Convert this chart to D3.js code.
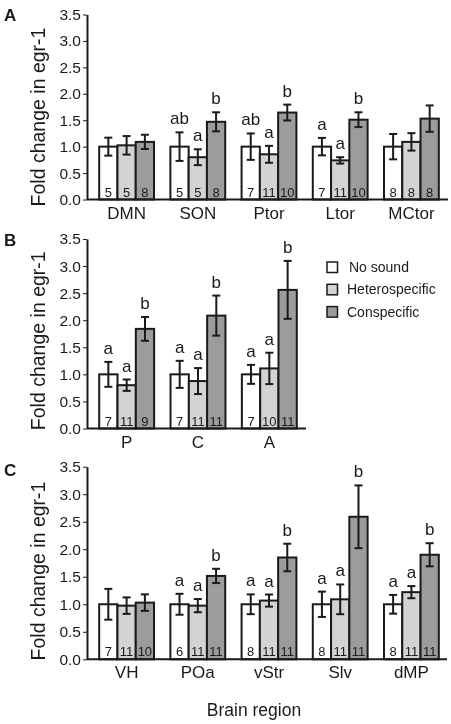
<!DOCTYPE html>
<html>
<head>
<meta charset="utf-8">
<script src="https://cdn.jsdelivr.net/npm/d3@7"></script>
<style>
  html, body { margin: 0; padding: 0; background: #fff; }
  svg { display: block; will-change: transform; }
  text { font-family: "Liberation Sans", Arial, Helvetica, sans-serif; fill: #1a1a1a; }
</style>
</head>
<body>
<svg id="chart" width="451" height="724"></svg>
<script>
// ---------- DATA ----------
const seriesNames = ["No sound", "Heterospecific", "Conspecific"];
const yTicks = [0, 0.5, 1.0, 1.5, 2.0, 2.5, 3.0, 3.5];

// Panel A
const catsA = ["DMN", "SON", "Ptor", "Ltor", "MCtor"];
const noSoundA = [1.0, 1.0, 1.0, 1.0, 1.0];
const heteroA = [1.025, 0.80, 0.855, 0.74, 1.09];
const conA = [1.09, 1.47, 1.645, 1.51, 1.53];
const noSoundErrA = [0.17, 0.27, 0.25, 0.165, 0.24];
const heteroErrA = [0.175, 0.15, 0.16, 0.06, 0.165];
const conErrA = [0.135, 0.18, 0.15, 0.14, 0.25];
const noSoundNA = [5, 5, 7, 7, 8];
const heteroNA = [5, 5, 11, 11, 8];
const conNA = [8, 8, 10, 10, 8];
const noSoundLetA = ["", "ab", "ab", "a", ""];
const heteroLetA = ["", "a", "a", "a", ""];
const conLetA = ["", "b", "b", "b", ""];

// Panel B
const catsB = ["P", "C", "A"];
const noSoundB = [1.0, 1.0, 1.0];
const heteroB = [0.80, 0.876, 1.11];
const conB = [1.84, 2.085, 2.56];
const noSoundErrB = [0.23, 0.25, 0.175];
const heteroErrB = [0.105, 0.24, 0.29];
const conErrB = [0.22, 0.37, 0.535];
const noSoundNB = [7, 7, 7];
const heteroNB = [11, 11, 10];
const conNB = [9, 11, 11];
const noSoundLetB = ["a", "a", "a"];
const heteroLetB = ["a", "a", "a"];
const conLetB = ["b", "b", "b"];

// Panel C
const catsC = ["VH", "POa", "vStr", "Slv", "dMP"];
const noSoundC = [1.0, 1.0, 1.0, 1.0, 1.0];
const heteroC = [0.975, 0.975, 1.067, 1.09, 1.22];
const conC = [1.03, 1.515, 1.85, 2.59, 1.90];
const noSoundErrC = [0.28, 0.19, 0.18, 0.23, 0.17];
const heteroErrC = [0.15, 0.12, 0.11, 0.27, 0.11];
const conErrC = [0.15, 0.13, 0.25, 0.57, 0.21];
const noSoundNC = [7, 6, 8, 8, 8];
const heteroNC = [11, 11, 11, 11, 11];
const conNC = [10, 11, 11, 11, 11];
const noSoundLetC = ["", "a", "a", "a", "a"];
const heteroLetC = ["", "a", "a", "a", "a"];
const conLetC = ["", "b", "b", "b", "b"];

// ---------- STYLE / LAYOUT ----------
const colors = ["#ffffff", "#d3d3d3", "#9c9c9c"];
const ink = "#1a1a1a";
const font = '"Liberation Sans", Arial, Helvetica, sans-serif';

const svg = d3.select("#chart");

function buildRows(cats, vals, errs, ns, lets) {
  return cats.map((c, i) => ({
    cat: c,
    bars: seriesNames.map((s, k) => ({
      series: s, k: k, value: vals[k][i], err: errs[k][i], n: ns[k][i], letter: lets[k][i]
    }))
  }));
}

function drawPanel(cfg) {
  const g = svg.append("g");
  const y = d3.scaleLinear().domain([0, 3.5]).range([cfg.y0, cfg.y35]);
  const x0 = d3.scaleBand().domain(cfg.rows.map(d => d.cat))
    .range([cfg.bandL, cfg.bandR]).paddingInner(0.23).paddingOuter(0.115);
  const x1 = d3.scaleBand().domain(seriesNames).range([0, x0.bandwidth()]).padding(0);

  // panel letter
  g.append("text").attr("x", 4).attr("y", cfg.letterY)
    .attr("font-size", 17).attr("font-weight", "bold").text(cfg.label);

  // y axis
  const yAx = g.append("g").attr("transform", `translate(${cfg.left},0)`)
    .call(d3.axisLeft(y).tickValues(yTicks).tickFormat(d3.format(".1f")).tickSize(4).tickSizeOuter(0).tickPadding(2));
  yAx.select(".domain").attr("stroke", ink).attr("stroke-width", 2);
  yAx.selectAll(".tick line").attr("stroke", ink).attr("stroke-width", 1);
  yAx.selectAll(".tick text").attr("font-size", 15.5).attr("font-family", font).attr("fill", "#222");

  // y title
  g.append("text")
    .attr("transform", `translate(45,${(cfg.y0 + cfg.y35) / 2 + cfg.titleShift}) rotate(-90)`)
    .attr("text-anchor", "middle").attr("font-size", 19.5)
    .text("Fold change in egr-1");

  // bars
  const grp = g.selectAll(".grp").data(cfg.rows).join("g")
    .attr("transform", d => `translate(${x0(d.cat)},0)`);

  grp.selectAll("rect").data(d => d.bars).join("rect")
    .attr("x", d => x1(d.series))
    .attr("width", x1.bandwidth())
    .attr("y", d => y(d.value))
    .attr("height", d => y(0) - y(d.value))
    .attr("fill", d => colors[d.k])
    .attr("stroke", ink).attr("stroke-width", 2);

  // error bars
  const eb = grp.selectAll(".eb").data(d => d.bars).join("g").attr("class", "eb");
  eb.append("line")
    .attr("x1", d => x1(d.series) + x1.bandwidth() / 2)
    .attr("x2", d => x1(d.series) + x1.bandwidth() / 2)
    .attr("y1", d => y(d.value + d.err)).attr("y2", d => y(d.value - d.err))
    .attr("stroke", ink).attr("stroke-width", 2);
  [1, -1].forEach(s => {
    eb.append("line")
      .attr("x1", d => x1(d.series) + x1.bandwidth() / 2 - 4)
      .attr("x2", d => x1(d.series) + x1.bandwidth() / 2 + 4)
      .attr("y1", d => y(d.value + s * d.err)).attr("y2", d => y(d.value + s * d.err))
      .attr("stroke", ink).attr("stroke-width", 2);
  });

  // n labels
  grp.selectAll(".nlab").data(d => d.bars).join("text").attr("class", "nlab")
    .attr("x", d => x1(d.series) + x1.bandwidth() / 2)
    .attr("y", y(0) - 3)
    .attr("text-anchor", "middle").attr("font-size", 13)
    .text(d => d.n);

  // significance letters
  grp.selectAll(".sig").data(d => d.bars.filter(b => b.letter)).join("text").attr("class", "sig")
    .attr("x", d => x1(d.series) + x1.bandwidth() / 2)
    .attr("y", d => y(d.value + d.err) - 8)
    .attr("text-anchor", "middle").attr("font-size", 17)
    .text(d => d.letter);

  // x axis
  g.append("line").attr("x1", cfg.left).attr("x2", cfg.right)
    .attr("y1", y(0)).attr("y2", y(0)).attr("stroke", ink).attr("stroke-width", 2);
  const xAx = g.append("g").attr("transform", `translate(0,${y(0)})`)
    .call(d3.axisBottom(x0).tickSize(0).tickPadding(7));
  xAx.select(".domain").remove();
  xAx.selectAll(".tick text").attr("font-size", 17).attr("font-family", font).attr("fill", ink);
  return { y, x0 };
}

drawPanel({
  label: "A", letterY: 21, rows: buildRows(catsA, [noSoundA, heteroA, conA], [noSoundErrA, heteroErrA, conErrA], [noSoundNA, heteroNA, conNA], [noSoundLetA, heteroLetA, conLetA]),
  left: 87, right: 448, bandL: 91, bandR: 447, y0: 199.5, y35: 14.5, titleShift: 10
});
drawPanel({
  label: "B", letterY: 246, rows: buildRows(catsB, [noSoundB, heteroB, conB], [noSoundErrB, heteroErrB, conErrB], [noSoundNB, heteroNB, conNB], [noSoundLetB, heteroLetB, conLetB]),
  left: 87, right: 306, bandL: 91, bandR: 305, y0: 428.5, y35: 239, titleShift: 7
});
drawPanel({
  label: "C", letterY: 476, rows: buildRows(catsC, [noSoundC, heteroC, conC], [noSoundErrC, heteroErrC, conErrC], [noSoundNC, heteroNC, conNC], [noSoundLetC, heteroLetC, conLetC]),
  left: 87, right: 447, bandL: 91, bandR: 447, y0: 659.3, y35: 466.7, titleShift: 8
});

// legend
const leg = svg.append("g").selectAll("g").data(seriesNames).join("g")
  .attr("transform", (d, i) => `translate(327,${262 + i * 22.3})`);
leg.append("rect").attr("width", 10.5).attr("height", 10.5)
  .attr("fill", (d, i) => colors[i]).attr("stroke", ink).attr("stroke-width", 1.5);
leg.append("text").attr("x", (d, i) => i === 0 ? 22 : 20).attr("y", 5.25).attr("dy", "0.35em")
  .attr("font-size", 14).text(d => d);

// shared x title
svg.append("text").attr("x", 254).attr("y", 716).attr("text-anchor", "middle")
  .attr("font-size", 17.5).text("Brain region");
</script>
</body>
</html>
